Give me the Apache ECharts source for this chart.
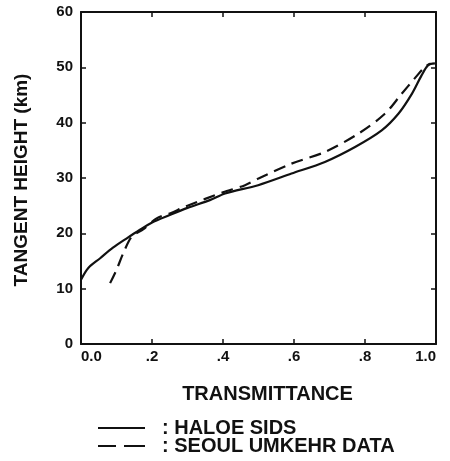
<!DOCTYPE html>
<html><head><meta charset="utf-8">
<script src="https://cdn.jsdelivr.net/npm/echarts@6/dist/echarts.min.js"></script>
<style>html,body{margin:0;padding:0;background:#fff}#c{width:450px;height:461px}</style>
</head><body><div id="c"></div>
<script>
const xTicks = [0, 0.2, 0.4, 0.6, 0.8, 1.0];
const xTickLabels = ['0.0', '.2', '.4', '.6', '.8', '1.0'];
const yTicks = [0, 10, 20, 30, 40, 50, 60];
const haloeX = [0.0, 0.02, 0.054, 0.09, 0.129, 0.165, 0.199, 0.25, 0.3, 0.363, 0.406, 0.499, 0.593, 0.687, 0.772, 0.847, 0.894, 0.932, 0.959, 0.978, 0.997];
const haloeY = [11.6, 13.7, 15.5, 17.4, 19.1, 20.6, 21.9, 23.3, 24.6, 26.0, 27.2, 28.7, 30.8, 32.9, 35.6, 38.6, 41.6, 45.2, 48.5, 50.4, 50.7];
const seoulX = [0.082, 0.1, 0.119, 0.143, 0.175, 0.213, 0.25, 0.3, 0.4, 0.462, 0.5, 0.593, 0.687, 0.781, 0.856, 0.903, 0.94, 0.969, 0.985];
const seoulY = [11.0, 13.4, 16.4, 19.4, 20.7, 22.7, 23.6, 25.0, 27.4, 28.7, 29.9, 32.6, 34.7, 38.0, 41.6, 45.2, 48.0, 50.1, 50.7];
const seriesNames = [': HALOE SIDS', ': SEOUL UMKEHR DATA'];

const pairs = (xs, ys) => xs.map((x, i) => [x, ys[i]]);
const font = 'Liberation Sans, Arial, sans-serif';
const G = {left: 81, right: 14, top: 12, bottom: 117};
const W = 450 - G.left - G.right, H = 461 - G.top - G.bottom;
const line = () => ({show: true, onZero: false, lineStyle: {color: '#111', width: 2}});
const noLine = () => ({show: false, onZero: false});
const tick = () => ({show: true, length: 5, lineStyle: {color: '#111', width: 1.5}});
const xBase = {type: 'value', min: 0, max: 1, interval: 0.2, splitLine: {show: false}};
const yBase = {type: 'value', min: 0, max: 60, interval: 10, splitLine: {show: false}};
const legendText = {fontFamily: font, fontSize: 20, fontWeight: 'bold', color: '#111', padding: [0, 0, 0, 12]};
const chart = echarts.init(document.getElementById('c'));
chart.setOption({
  animation: false,
  backgroundColor: '#fff',
  grid: Object.assign({containLabel: false}, G),
  xAxis: [
    Object.assign({}, xBase, {
      position: 'bottom', name: 'TRANSMITTANCE', nameLocation: 'middle', nameGap: 40,
      nameTextStyle: {fontFamily: font, fontSize: 20, fontWeight: 'bold', color: '#111', padding: [0, 0, 0, 18]},
      axisLine: line(), axisTick: {show: false},
      axisLabel: {margin: 5, fontFamily: font, fontSize: 15, fontWeight: 'bold', color: '#111',
        alignMinLabel: 'left', alignMaxLabel: 'right',
        formatter: v => { const i = xTicks.findIndex(t => Math.abs(t - v) < 1e-6); return i >= 0 ? xTickLabels[i] : ''; }}
    }),
    Object.assign({}, xBase, {position: 'top', axisLine: line(), axisTick: {show: false}, axisLabel: {show: false}}),
    Object.assign({}, xBase, {position: 'top', offset: -H, axisLine: noLine(), axisTick: tick(), axisLabel: {show: false}}),
    Object.assign({}, xBase, {position: 'bottom', offset: -H, axisLine: noLine(), axisTick: tick(), axisLabel: {show: false}})
  ],
  yAxis: [
    Object.assign({}, yBase, {
      position: 'left', name: 'TANGENT HEIGHT (km)', nameLocation: 'middle', nameGap: 50, nameRotate: 90,
      nameTextStyle: {fontFamily: font, fontSize: 19, fontWeight: 'bold', color: '#111', padding: [0, 4, 0, 0]},
      axisLine: line(), axisTick: {show: false},
      axisLabel: {margin: 8, fontFamily: font, fontSize: 15, fontWeight: 'bold', color: '#111',
        formatter: v => yTicks.includes(v) ? String(v) : ''}
    }),
    Object.assign({}, yBase, {position: 'right', axisLine: line(), axisTick: {show: false}, axisLabel: {show: false}}),
    Object.assign({}, yBase, {position: 'right', offset: -W, axisLine: noLine(), axisTick: tick(), axisLabel: {show: false}}),
    Object.assign({}, yBase, {position: 'left', offset: -W, axisLine: noLine(), axisTick: tick(), axisLabel: {show: false}})
  ],
  legend: [{
    left: 93, top: 413, itemWidth: 47, itemHeight: 18, textStyle: legendText,
    data: [{name: seriesNames[0], icon: 'path://M0,9h47v2h-47z', itemStyle: {color: '#111'}}]
  }, {
    left: 93, top: 431, itemWidth: 47, itemHeight: 18, textStyle: legendText,
    data: [{name: seriesNames[1], icon: 'path://M0,9h18v2h-18z M26,9h21v2h-21z', itemStyle: {color: '#111'}}]
  }],
  series: [{
    name: seriesNames[0], type: 'line', smooth: 0.3, symbol: 'none', xAxisIndex: 0, yAxisIndex: 0,
    itemStyle: {color: '#111'}, lineStyle: {color: '#111', width: 2.2}, data: pairs(haloeX, haloeY)
  }, {
    name: seriesNames[1], type: 'line', smooth: 0.3, symbol: 'none', xAxisIndex: 1, yAxisIndex: 1,
    itemStyle: {color: '#111'}, lineStyle: {color: '#111', width: 2.2, type: [12, 7]}, data: pairs(seoulX, seoulY)
  }, {
    name: 'ticksA', type: 'line', symbol: 'none', xAxisIndex: 2, yAxisIndex: 2, data: [], silent: true
  }, {
    name: 'ticksB', type: 'line', symbol: 'none', xAxisIndex: 3, yAxisIndex: 3, data: [], silent: true
  }]
});
</script></body></html>
